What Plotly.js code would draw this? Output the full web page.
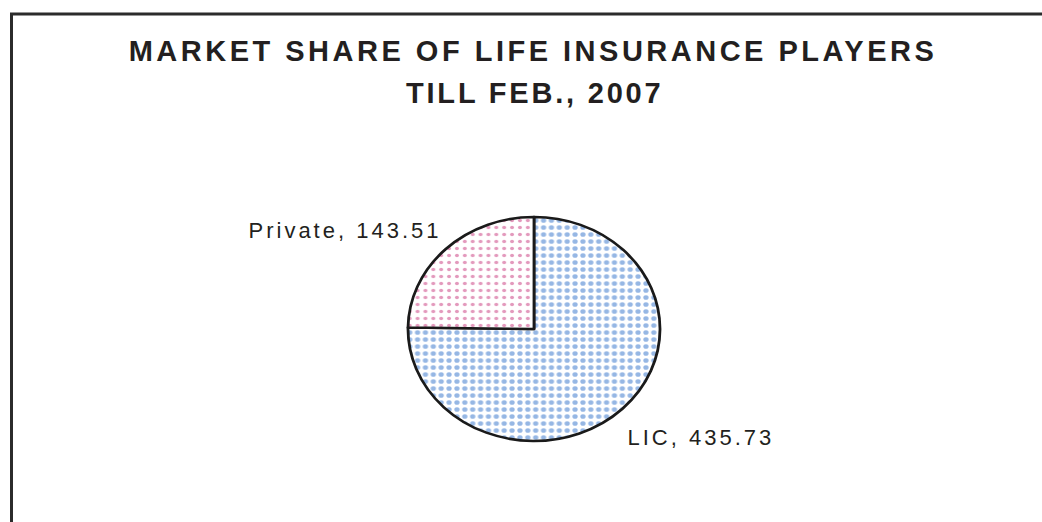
<!DOCTYPE html>
<html>
<head>
<meta charset="utf-8">
<script src="https://cdn.plot.ly/plotly-3.0.1.min.js"></script>
<style>
  html, body { margin: 0; padding: 0; background: #fff; }
  #chart { width: 1042px; height: 522px; }
  .gtitle { letter-spacing: 3.5px; }
  g.annotation[data-index="0"] text { letter-spacing: 2.8px; }
  g.annotation[data-index="1"] text, g.annotation[data-index="2"] text { letter-spacing: 3px; }
</style>
</head>
<body>
<div id="chart"></div>
<script>
const titleLine1 = "MARKET SHARE OF LIFE INSURANCE PLAYERS";
const titleLine2 = "TILL FEB., 2007";
const labels = ["LIC", "Private"];
const values = [435.73, 143.51];
const sliceColors = ["#2e6fc9", "#c8347a"];

const W = 1042, H = 522;
const px = v => v / W;
const py = v => 1 - v / H;

const cx = 534, cy = 329, ry = 112, rx = 126;

const trace = {
  type: "pie",
  labels: labels,
  values: values,
  sort: false,
  direction: "clockwise",
  rotation: 0,
  textinfo: "none",
  hoverinfo: "label+value",
  showlegend: false,
  domain: { x: [px(cx - ry), px(cx + ry)], y: [py(cy + ry), py(cy - ry)] },
  marker: {
    colors: ["#ffffff", "#ffffff"],
    line: { color: "#1a1a1a", width: 2.5 },
    pattern: {
      shape: [".", "."],
      fgcolor: sliceColors,
      bgcolor: ["#ffffff", "#ffffff"],
      size: [7, 7],
      solidity: [0.35, 0.2],
      fillmode: "overlay"
    }
  }
};

const textColor = "#231f20";
const layout = {
  width: W, height: H,
  margin: { l: 0, r: 0, t: 0, b: 0 },
  paper_bgcolor: "#ffffff",
  plot_bgcolor: "#ffffff",
  font: { family: "Liberation Sans, Arial, sans-serif", color: textColor },
  title: {
    text: "<b>" + titleLine1 + "</b>",
    font: { family: "Liberation Sans, Arial, sans-serif", size: 29, color: textColor },
    x: px(533), xref: "paper", xanchor: "center",
    y: py(51), yref: "paper", yanchor: "middle"
  },
  annotations: [
    { text: "<b>" + titleLine2 + "</b>", x: px(534), y: py(93), xref: "paper", yref: "paper",
      xanchor: "center", yanchor: "middle", showarrow: false,
      font: { family: "Liberation Sans, Arial, sans-serif", size: 29, color: textColor } },
    { text: labels[1] + ", " + values[1].toFixed(2), x: px(345), y: py(231), xref: "paper", yref: "paper",
      xanchor: "center", yanchor: "middle", showarrow: false,
      font: { family: "Liberation Sans, Arial, sans-serif", size: 22, color: textColor } },
    { text: labels[0] + ", " + values[0].toFixed(2), x: px(701), y: py(437), xref: "paper", yref: "paper",
      xanchor: "center", yanchor: "middle", showarrow: false,
      font: { family: "Liberation Sans, Arial, sans-serif", size: 22, color: textColor } }
  ],
  shapes: [
    { type: "line", xref: "paper", yref: "paper", x0: px(11.5), x1: px(11.5), y0: 0, y1: py(14),
      line: { color: "#2b2b2b", width: 3 } },
    { type: "line", xref: "paper", yref: "paper", x0: px(10), x1: 1, y0: py(14), y1: py(14),
      line: { color: "#2b2b2b", width: 3 } }
  ]
};

Plotly.newPlot("chart", [trace], layout, { displayModeBar: false, staticPlot: true }).then(gd => {
  const g = gd.querySelector(".pielayer .trace");
  if (g) {
    const s = rx / ry;
    g.setAttribute("transform", `translate(${cx},${cy}) scale(${s},1) translate(${-cx},${-cy})`);
  }
});
</script>
</body>
</html>
